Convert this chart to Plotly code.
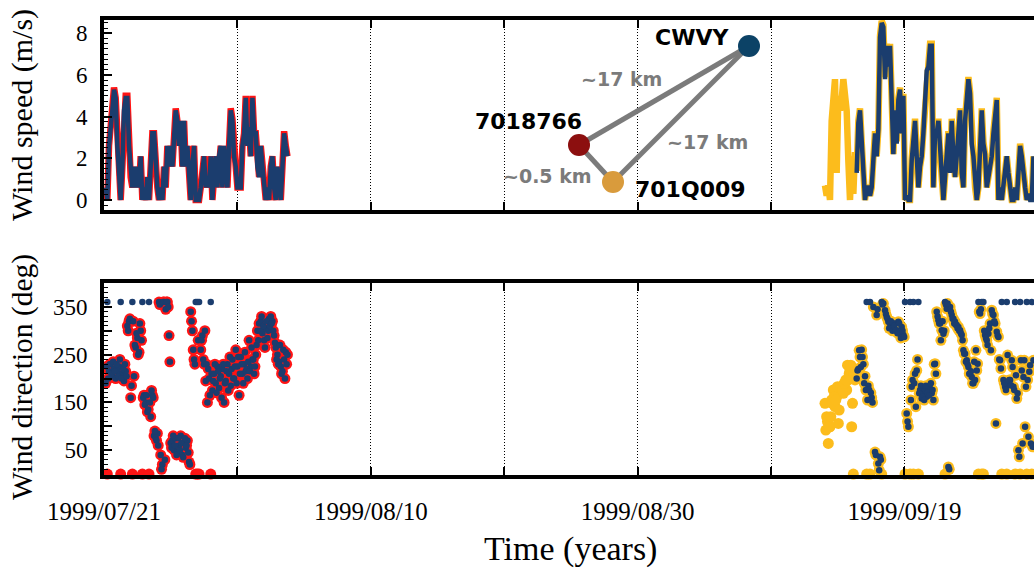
import plotly.graph_objects as go
import pandas as pd

# ---------------- data ----------------
left_start = "1999-07-21 03:00"      # CWVY + 7018766 segment
left_start_b = "1999-07-21 04:30"    # interleaved readings
yellow_start = "1999-09-13 01:00"    # 701Q009 segment
yellow_start_b = "1999-09-13 02:30"
cwvy_right_start = "1999-09-15 10:00"
cwvy_right_start_b = "1999-09-15 11:30"
step = "3h"

cwvy_speed_left = [
    0.6, 0, 2.6, 3.8, 4.3, 5.3, 4.9, 2.6, 1.1, 0,
    1.6, 4.3, 4.9, 4.9, 2.6, 1.1, 0.6, 1.6, 0.6, 1.6,
    0.6, 2.1, 0, 0.6, 0, 1.1, 0, 1.6, 3.2, 3.2,
    1.6, 0.6, 0, 0.6, 0, 1.6, 0.6, 2.6, 1.6, 2.6,
    1.6, 3.2, 4.3, 3.8, 2.6, 3.8, 1.6, 3.8, 1.6, 2.6,
    1.6, 0, 1.6, 2.6, 0, 0, 0, 0.6, 1.6, 2.1,
    0.6, 1.1, 0.6, 2.1, 0, 1.6, 2.1, 0.6, 2.1, 2.6,
    0.6, 2.6, 1.6, 0.6, 2.6, 4.3, 3.8, 2.1, 1.6, 0.6,
    0.6, 0.6, 2.6, 3.2, 4.9, 2.6, 3.5, 2.1, 4.9, 3.2,
    3.2, 1.6, 1.1, 2.6, 1.6, 0.6, 0, 0.6, 0, 1.6,
    2.1, 0.6, 0, 1.6, 0.6, 0, 1.6, 3.2, 2.6, 2.1,
]
speed_7018766 = [
    0.6, 0, 2.6, 3.9, 4.4, 5.4, 4.9, 2.6, 1.1, 0,
    1.6, 4.4, 5.0, 5.0, 2.6, 1.1, 0.6, 1.6, 0.6, 1.6,
    0.6, 2.1, 0, 0.6, 0, 1.1, 0, 1.6, 3.2, 3.2,
    1.6, 0.6, 0, 0.6, 0, 1.6, 0.6, 2.6, 1.6, 2.6,
    1.6, 3.2, 4.4, 3.8, 2.6, 3.8, 1.6, 3.8, 1.6, 2.6,
    1.6, 0, 1.6, 2.6, 0, 0, 0, 0.6, 1.6, 2.1,
    0.6, 1.1, 0.6, 2.1, 0, 1.6, 2.1, 0.6, 2.1, 2.6,
    0.6, 2.6, 1.6, 0.6, 2.6, 4.4, 3.9, 2.1, 1.6, 0.6,
    0.6, 0.6, 2.6, 3.2, 5.0, 2.6, 3.5, 2.1, 5.0, 3.2,
    3.2, 1.6, 1.1, 2.6, 1.6, 0.6, 0, 0.6, 0, 1.6,
    2.1, 0.6, 0, 1.6, 0.6, 0, 1.6, 3.3, 2.6, 2.1,
]
cwvy_speed_right = [
    1.3, 3.7, 4.3, 2.7, 1.1, 0, 0.6, 0.6, 0.2, 0.6,
    1.9, 3.2, 2.1, 3.4, 7.8, 8.5, 8.3, 5.8, 7.4, 6.4,
    7.4, 4.3, 2.2, 4.3, 2.7, 4.8, 5.3, 3.2, 5.0, 0,
    0.2, 0, 0, 1.9, 3.2, 3.8, 2.1, 0.6, 1.6, 2.1,
    3.2, 4.5, 6.2, 6.4, 7.4, 7.4, 0.6, 3.2, 3.2, 3.8,
    2.2, 1.1, 0, 1.1, 2.2, 3.2, 1.3, 3.8, 2.1, 1.1,
    2.1, 3.2, 4.3, 1.3, 0.6, 3.8, 4.8, 5.8, 5.1, 2.7,
    2.1, 0.6, 0, 0.6, 2.2, 4.3, 2.7, 2.2, 0.6, 1.1,
    1.3, 2.1, 3.2, 4.3, 4.8, 0, 0.6, 0, 0.6, 1.1,
    2.1, 1.3, 0.6, 0, 0, 0.6, 0, 1.1, 2.6, 2.1,
    1.1, 0.6, 0, 0.3, 0, 0, 2.1,
]
speed_701Q009_early = [
    0.7, 0.2, 0.7, 0, 3.8, 5.1, 5.8, 1.3, 5.0, 4.3,
    4.8, 5.8, 4.8, 4.3, 1.9, 0, 2.1, 0.3, 2.3,
]
speed_701Q009_late = [
    1.4, 3.8, 4.4, 2.8, 1.2, 0, 0.6, 0.6, 0.2, 0.6,
    2.0, 3.3, 2.1, 3.4, 7.9, 8.6, 8.4, 5.9, 7.5, 6.4,
    7.5, 4.4, 2.2, 4.4, 2.8, 4.9, 5.4, 3.2, 5.1, 0,
    0.2, 0, 0, 2.0, 3.3, 3.9, 2.1, 0.6, 1.6, 2.1,
    3.3, 4.6, 6.3, 6.5, 7.5, 7.5, 0.6, 3.3, 3.3, 3.9,
    2.2, 1.1, 0, 1.1, 2.2, 3.3, 1.3, 3.9, 2.1, 1.1,
    2.1, 3.3, 4.4, 1.3, 0.6, 3.9, 4.9, 5.9, 5.2, 2.8,
    2.1, 0.6, 0, 0.6, 2.2, 4.4, 2.8, 2.2, 0.6, 1.1,
    1.3, 2.1, 3.3, 4.4, 4.9, 0, 0.6, 0, 0.6, 1.1,
    2.1, 1.3, 0.6, 0, 0, 0.6, 0, 1.1, 2.7, 2.1,
    1.1, 0.6, 0, 0.3, 0, 0, 2.1,
]

cwvy_dir_left = [
    190, 360, 215, 230, 205, 220, 200, 215, 225, 360,
    210, 195, 215, 310, 320, 160, 360, 205, 265, 285,
    255, 300, 360, 165, 150, 130, 360, 120, 165, 80,
    75, 85, 360, 40, 20, 360, 345, 360, 290, 65,
    70, 50, 75, 45, 60, 80, 40, 65, 55, 70,
    25, 340, 300, 240, 360, 360, 360, 260, 290, 230,
    195, 150, 200, 360, 175, 210, 190, 225, 180, 205,
    220, 150, 195, 230, 210, 185, 240, 200, 260, 225,
    165, 245, 210, 230, 215, 200, 280, 225, 240, 210,
    250, 300, 315, 320, 295, 280, 305, 285, 325, 330,
    320, 290, 265, 250, 235, 225, 215, 240, 255, 250,
]
dir_7018766 = [
    190, 0, 215, 230, 205, 220, 200, 215, 225, 0,
    210, 195, 215, 310, 320, 160, 0, 205, 265, 285,
    255, 300, 0, 165, 150, 130, 0, 120, 165, 80,
    75, 85, 360, 40, 20, 360, 345, 360, 290, 65,
    70, 50, 75, 45, 60, 80, 40, 65, 55, 70,
    25, 340, 300, 240, 0, 0, 0, 260, 290, 230,
    195, 150, 200, 0, 175, 210, 190, 225, 180, 205,
    220, 150, 195, 230, 210, 185, 240, 200, 260, 225,
    165, 245, 210, 230, 215, 200, 280, 225, 240, 210,
    250, 300, 315, 320, 295, 280, 305, 285, 325, 330,
    320, 290, 265, 250, 235, 225, 215, 240, 255, 250,
]
# readings between the 3-hourly ones (both stations agree)
dir_left_b = [
    225, 200, 230, 210, 235, 215, 230, 205, 240, 200,
    220, 230, 205, 300, 325, 185, 320, 270, 295, 250,
    315, 280, 160, 145, 165, 135, 150, 175, 160, 90,
    70, 60, 355, 10, 360, 30, 360, 350, 235, 55,
    80, 60, 40, 75, 50, 65, 35, 75, 60, 45,
    20, 320, 260, 230, None, 280, None, 280, 240, 300,
    230, 220, 165, 210, 195, 230, 170, 215, 200, 160,
    230, 190, 215, 175, 245, 220, 200, 225, 190, 245,
    210, 230, 190, 255, 220, 235, 215, 265, 240, 225,
    270, 280, 300, 330, 310, 265, 320, 300, 310, 315,
    300, 275, 240, 230, 270, 210, 260, 200, 230, None,
]
cwvy_dir_right = [
    200, 220, 245, 260, 230, 205, 360, 185, 360, 160,
    350, 46, 333, 22, 36, 360, 357, 343, 329, 319,
    315, 305, 315, 315, 301, 319, 294, 308, 291, 360,
    127, 99, 360, 183, 360, 210, 217, 360, 176, 158,
    169, 176, 162, 176, 179, 169, 155, 231, 340, 322,
    315, 301, 294, 360, 346, 15, 350, 333, 325, 319,
    312, 308, 301, 291, 259, 252, 238, 224, 210, 203,
    190, 197, 217, 360, 336, 360, 360, 291, 280, 294,
    315, 343, 333, 315, 298, 287, 238, 360, 197, 183,
    360, 186, 197, 238, 183, 360, 158, 50, 360, 217,
    203, 99, 360, 78, 228, 360, 238,
]
dir_right_b = [
    217, 259, 224, 245, 190, 176, 155, 176, 170, 150,
    None, 40, 345, 8, 30, 355, None, 335, 325, 305,
    320, 300, 310, 300, 295, 315, 285, 300, 287, None,
    110, None, 155, 197, 190, 141, 240, 169, 185, 162,
    155, 185, 170, 165, 190, 176, 230, 210, 330, 315,
    280, 320, 300, 355, 357, 10, 340, 325, 315, 312,
    305, 300, 295, 280, 252, 235, 230, 210, 215, 190,
    235, 259, 231, 340, 345, None, 300, 285, 270, 305,
    259, 335, 320, 106, 290, 240, 221, None, 190, 176,
    249, 197, 186, 224, 176, 207, 169, 36, 238, 64,
    238, 183, 197, 214, 64, 57, 228,
]
dir_701Q009_early = [
    148, 120, 64, 99, 155, 176, 141, 162, 106, 176,
    183, 169, 190, 176, 197, 217, 99, 0, 197,
]
dir_701Q009_early_b = [
    92, 110, 99, 120, 148, 162, 155, 183, 134, 183,
    176, 190, 197, 228, 210, 228, 148, 210, 217,
]
dir_701Q009_late = [
    200, 220, 245, 260, 230, 205, 0, 185, 0, 160,
    350, 46, 333, 22, 36, 0, 357, 343, 329, 319,
    315, 305, 315, 315, 301, 319, 294, 308, 291, 0,
    127, 99, 0, 183, 0, 210, 217, 0, 176, 158,
    169, 176, 162, 176, 179, 169, 155, 231, 340, 322,
    315, 301, 294, 0, 346, 15, 350, 333, 325, 319,
    312, 308, 301, 291, 259, 252, 238, 224, 210, 203,
    190, 197, 217, 0, 336, 0, 0, 291, 280, 294,
    315, 343, 333, 315, 298, 287, 238, 0, 197, 183,
    0, 186, 197, 238, 183, 0, 158, 50, 0, 217,
    203, 99, 0, 78, 228, 0, 238,
]

x_tick_dates = ["1999-07-21", "1999-07-31", "1999-08-10", "1999-08-20",
                "1999-08-30", "1999-09-09", "1999-09-19", "1999-09-29"]
x_tick_text = ["1999/07/21", "", "1999/08/10", "", "1999/08/30", "", "1999/09/19", ""]
x_range = ["1999-07-21 00:00", "1999-09-28 17:00"]
speed_ticks = [0, 2, 4, 6, 8]
dir_ticks = [50, 100, 150, 200, 250, 300, 350]
dir_tick_text = ["50", "", "150", "", "250", "", "350"]

# ---------------- time axes ----------------
t_left = pd.date_range(left_start, periods=len(cwvy_speed_left), freq=step)
t_left_b = pd.date_range(left_start_b, periods=len(dir_left_b), freq=step)
t_right = pd.date_range(cwvy_right_start, periods=len(cwvy_speed_right), freq=step)
t_right_b = pd.date_range(cwvy_right_start_b, periods=len(dir_right_b), freq=step)
speed_701Q009 = speed_701Q009_early + speed_701Q009_late
dir_701Q009 = dir_701Q009_early + dir_701Q009_late
dir_701Q009_b = dir_701Q009_early_b + dir_right_b
t_yellow = pd.date_range(yellow_start, periods=len(speed_701Q009), freq=step)
t_yellow_b = pd.date_range(yellow_start_b, periods=len(dir_701Q009_b), freq=step)

BLUE = "#1b3d6e"
RED = "#ff1414"
YEL = "#fcbc1c"

fig = go.Figure()
# speeds (top)
fig.add_trace(go.Scatter(x=t_left, y=speed_7018766, mode="lines",
                         line=dict(color=RED, width=6.5), xaxis="x", yaxis="y"))
fig.add_trace(go.Scatter(x=t_left, y=cwvy_speed_left, mode="lines",
                         line=dict(color=BLUE, width=4.5), xaxis="x", yaxis="y"))
fig.add_trace(go.Scatter(x=t_yellow, y=speed_701Q009, mode="lines",
                         line=dict(color=YEL, width=6.5), xaxis="x", yaxis="y"))
fig.add_trace(go.Scatter(x=t_right, y=cwvy_speed_right, mode="lines",
                         line=dict(color=BLUE, width=4.5), xaxis="x", yaxis="y"))


def dots(x, y, color, size):
    return go.Scatter(x=x, y=y, mode="markers", cliponaxis=False,
                      marker=dict(color=color, size=size, line_width=0),
                      xaxis="x2", yaxis="y2")


# directions (bottom)
fig.add_trace(dots(t_left, dir_7018766, RED, 11))
fig.add_trace(dots(t_left_b, dir_left_b, RED, 11))
fig.add_trace(dots(t_yellow, dir_701Q009, YEL, 11))
fig.add_trace(dots(t_yellow_b, dir_701Q009_b, YEL, 11))
fig.add_trace(dots(t_left, cwvy_dir_left, BLUE, 6.5))
fig.add_trace(dots(t_left_b, dir_left_b, BLUE, 6.5))
fig.add_trace(dots(t_right, cwvy_dir_right, BLUE, 6.5))
fig.add_trace(dots(t_right_b, dir_right_b, BLUE, 6.5))

W, H = 1034, 569
L, R, T, B = 104, 0, 20, 94
PW, PH = W - L - R, H - T - B


def fx(px):
    return (px - L) / PW


def fy(py):
    return (H - B - py) / PH


serif = "Liberation Serif"
xcommon = dict(type="date", range=x_range, tickmode="array", tickvals=x_tick_dates,
               ticks="inside", ticklen=8, tickwidth=1.5, tickcolor="black",
               showline=True, linewidth=4, linecolor="black", mirror="allticks",
               showgrid=True, gridcolor="black", griddash="1px,2px", gridwidth=1,
               zeroline=False)
ycommon = dict(showline=True, linewidth=4, linecolor="black", mirror=False,
               ticks="inside", ticklen=8, tickwidth=1.5, tickcolor="black",
               showgrid=False, zeroline=False, ticklabelstandoff=8,
               tickfont=dict(family=serif, size=23, color="black"))

fig.update_layout(
    width=W, height=H, margin=dict(l=L, r=R, t=T, b=B),
    paper_bgcolor="white", plot_bgcolor="white", showlegend=False,
    xaxis=dict(**xcommon, domain=[0, 1], anchor="y", showticklabels=False, matches="x2"),
    xaxis2=dict(**xcommon, domain=[0, 1], anchor="y2", ticktext=x_tick_text,
                ticklabelstandoff=11,
                tickfont=dict(family=serif, size=25, color="black")),
    yaxis=dict(**ycommon, domain=[fy(210), 1], anchor="x", range=[-0.48, 8.64],
               tickmode="array", tickvals=speed_ticks,
               minor=dict(ticks="inside", ticklen=4, tickwidth=1, tickcolor="black",
                          tick0=0, dtick=0.25)),
    yaxis2=dict(**ycommon, domain=[0, fy(283)], anchor="x2", range=[-2, 400],
                tickmode="array", tickvals=dir_ticks, ticktext=dir_tick_text,
                minor=dict(ticks="inside", ticklen=4, tickwidth=1, tickcolor="black",
                           tick0=0, dtick=10)),
)

# axis titles
ann = [
    dict(text="Wind speed (m/s)", x=fx(22), y=fy(115), textangle=-90,
         font=dict(family=serif, size=30, color="black")),
    dict(text="Wind direction (deg)", x=fx(22), y=fy(377), textangle=-90,
         font=dict(family=serif, size=29.5, color="black")),
    dict(text="Time (years)", x=fx(570), y=fy(549),
         font=dict(family=serif, size=34, color="black")),
]

# station inset diagram
sans = "DejaVu Sans"
GRAY = "#7b7b7b"
nodes = {"CWVY": (749, 46, "#0c4266"), "7018766": (579, 145, "#8c0f0f"),
         "701Q009": (613, 182, "#d99b3c")}
shapes = []
for a, b in [("CWVY", "7018766"), ("CWVY", "701Q009"), ("7018766", "701Q009")]:
    shapes.append(dict(type="line", xref="paper", yref="paper",
                       x0=fx(nodes[a][0]), y0=fy(nodes[a][1]),
                       x1=fx(nodes[b][0]), y1=fy(nodes[b][1]),
                       line=dict(color=GRAY, width=5), layer="above"))
for name, (cx, cy, col) in nodes.items():
    r = 11
    shapes.append(dict(type="circle", xref="paper", yref="paper",
                       x0=fx(cx - r), x1=fx(cx + r), y0=fy(cy + r), y1=fy(cy - r),
                       fillcolor=col, line=dict(width=0), layer="above"))

for text, cx, cy, col, size in [
    ("CWVY", 692, 38, "black", 22),
    ("7018766", 528, 122, "black", 22),
    ("701Q009", 690, 189, "black", 22),
    ("~17 km", 621, 79, GRAY, 19),
    ("~17 km", 707, 142, GRAY, 19),
    ("~0.5 km", 547, 176, GRAY, 19),
]:
    ann.append(dict(text=text, x=fx(cx), y=fy(cy),
                    font=dict(family=sans, size=size, color=col, weight="bold")))

for a in ann:
    a.update(xref="paper", yref="paper", xanchor="center", yanchor="middle",
             showarrow=False)

fig.update_layout(annotations=ann, shapes=shapes)
fig.write_html("out.html")
